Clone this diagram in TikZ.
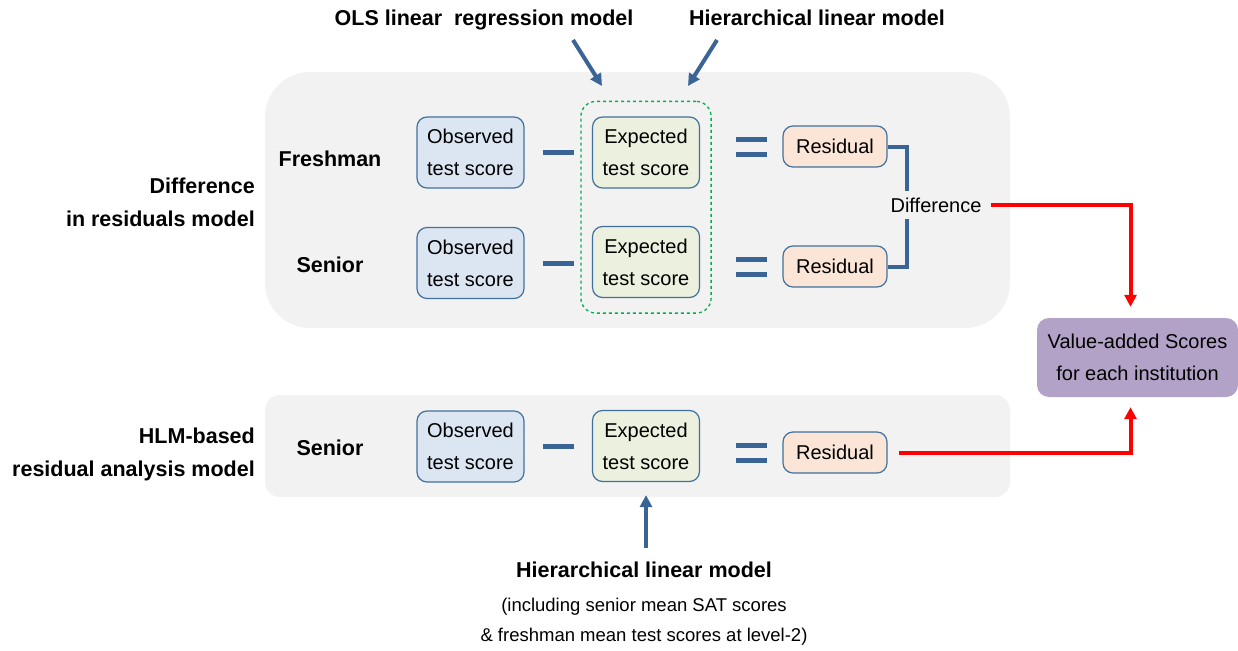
\documentclass[tikz,border=0pt]{standalone}
\usepackage{fontspec}
\setmainfont{Liberation Sans}
\usetikzlibrary{arrows.meta,fit}

\definecolor{panelgray}{HTML}{F2F2F2}
\definecolor{boxline}{HTML}{41719C}
\definecolor{barblue}{HTML}{3B6496}
\definecolor{obsfill}{HTML}{DCE6F2}
\definecolor{expfill}{HTML}{EBF1DE}
\definecolor{resfill}{HTML}{FBE5D6}
\definecolor{dashgreen}{HTML}{00B050}
\definecolor{valuefill}{HTML}{B3A2C7}
\definecolor{arrowred}{HTML}{FF0000}

\begin{document}
\begin{tikzpicture}
        [x=1pt,y=-1pt,
        every node/.style={font=\fontsize{20}{32}\selectfont, align=center},
        box/.style={draw=boxline, line width=1.2pt, rounded corners=10pt, inner sep=0pt, minimum width=107pt, minimum height=71pt},
        obsbox/.style={box, fill=obsfill},
        expbox/.style={box, fill=expfill},
        resbox/.style={box, fill=resfill, minimum width=104pt, minimum height=41pt},
        rowlabel/.style={font=\bfseries\fontsize{21.5}{34}\selectfont, inner sep=0pt},
        modellabel/.style={font=\bfseries\fontsize{21.5}{33}\selectfont, align=right, inner sep=0pt, anchor=east},
        bar/.style={draw=barblue, line width=5pt},
        bracket/.style={draw=barblue, line width=4pt},
        bluearrow/.style={draw=barblue, line width=4pt, -{Triangle[length=12pt,width=12pt]}},
        redarrow/.style={draw=arrowred, line width=4pt, -{Triangle[length=12pt,width=12pt]}}]

        \useasboundingbox (0,0) rectangle (1238,650);

        % panels
        \fill[panelgray, rounded corners=45pt] (265,72) rectangle (1010,328);
        \fill[panelgray, rounded corners=15pt] (265,395) rectangle (1010,497);

        % difference in residuals model
        \node[obsbox] (obs1) at (470.5,152.5) {Observed\\test score};
        \node[expbox] (exp1) at (646,152.5) {Expected\\test score};
        \node[resbox] (res1) at (835,146.5) {Residual};
        \node[obsbox] (obs2) at (470.5,263) {Observed\\test score};
        \node[expbox] (exp2) at (646,262) {Expected\\test score};
        \node[resbox] (res2) at (835,266.5) {Residual};

        \node[draw=dashgreen, dashed, line width=1.3pt, rounded corners=15pt, inner xsep=11pt, inner ysep=15pt, fit=(exp1)(exp2)] (grp) {};

        % hlm-based residual analysis model
        \node[obsbox] (obs3) at (470.5,446.5) {Observed\\test score};
        \node[expbox] (exp3) at (646,446) {Expected\\test score};
        \node[resbox] (res3) at (835,452.5) {Residual};

        % minus and equals signs
        \draw[bar] ([xshift=18pt]obs1.east) -- ([xshift=49pt]obs1.east);
        \draw[bar] ([xshift=18pt]obs2.east) -- ([xshift=49pt]obs2.east);
        \draw[bar] ([xshift=18pt]obs3.east) -- ([xshift=49pt]obs3.east);
        \foreach \r in {res1,res2,res3} {
          \draw[bar] ([xshift=-46pt,yshift=7.5pt]\r.west) -- ([xshift=-15pt,yshift=7.5pt]\r.west);
          \draw[bar] ([xshift=-46pt,yshift=-7.5pt]\r.west) -- ([xshift=-15pt,yshift=-7.5pt]\r.west);
        }

        % row labels
        \node[rowlabel, anchor=base] (fresh) at (330,166) {Freshman};
        \node[rowlabel, anchor=base] (sen1) at (330,272) {Senior};
        \node[rowlabel, anchor=base] (sen2) at (330,455) {Senior};
        \node[modellabel] (dirm) at (255,202) {Difference\\in residuals model};
        \node[modellabel] (hlmm) at (255,454) {HLM-based\\residual analysis model};

        % difference bracket
        \node[inner xsep=4pt, inner ysep=6pt] (diff) at (936,205) {Difference};
        \coordinate (brk) at (907,205);
        \draw[bracket] (res1.east) -| (brk |- diff.north);
        \draw[bracket] (res2.east) -| (brk |- diff.south);

        % value-added scores
        \node[fill=valuefill, rounded corners=12pt, minimum width=201pt, minimum height=79pt, inner sep=0pt] (value) at (1137.5,357.5) {Value-added Scores\\for each institution};
        \draw[redarrow, shorten <=5pt, shorten >=11pt] (diff.east) -| ([xshift=-7pt]value.north);
        \draw[redarrow, shorten <=11pt, shorten >=10pt] (res3.east) -| ([xshift=-7pt]value.south);

        % model labels on top
        \node[rowlabel, anchor=base] (ols) at (484,26) {OLS linear \ regression model};
        \node[rowlabel, anchor=base] (hlmtop) at (817,26) {Hierarchical linear model};
        \coordinate (olsA) at (573,40);
        \coordinate (hlmA) at (717,40);
        \draw[bluearrow] (olsA) -- (602,86);
        \draw[bluearrow] (hlmA) -- (688,86);

        % model label at bottom
        \node[rowlabel, anchor=base] (hlmbot) at (644,577) {Hierarchical linear model};
        \node[font=\fontsize{18.5}{30}\selectfont, anchor=base, inner sep=0pt] (incl1) at (644,611) {(including senior mean SAT scores};
        \node[font=\fontsize{18.5}{30}\selectfont, anchor=base, inner sep=0pt] (incl2) at (644,641) {\& freshman mean test scores at level-2)};
        \draw[bluearrow, shorten <=13pt, shorten >=0pt] (hlmbot.north -| exp3.south) -- ([yshift=-13pt]exp3.south);

      \end{tikzpicture}
\end{document}
